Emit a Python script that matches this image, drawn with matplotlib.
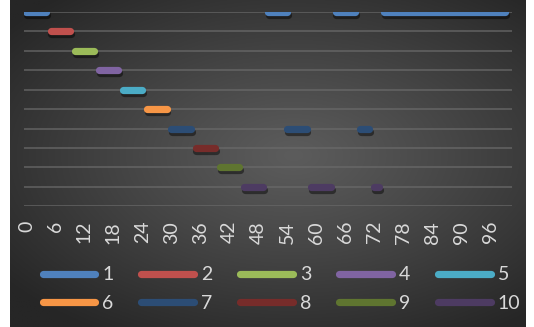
import numpy as np
import matplotlib.pyplot as plt
import matplotlib.patheffects as pe
from matplotlib.lines import Line2D

plt.rcParams['font.family'] = ['Lato', 'DejaVu Sans']

# process names, row level and the time slots each one runs in (inclusive)
labels = ['1', '2', '3', '4', '5', '6', '7', '8', '9', '10']
levels = [10, 9, 8, 7, 6, 5, 4, 3, 2, 1]
runs = [
    [(0, 4), (50, 54), (64, 68), (74, 99)],
    [(5, 9)],
    [(10, 14)],
    [(15, 19)],
    [(20, 24)],
    [(25, 29)],
    [(30, 34), (54, 58), (69, 71)],
    [(35, 39)],
    [(40, 44)],
    [(45, 49), (59, 63), (72, 73)],
]
colors = ['#4F81BD', '#C0504D', '#9BBB59', '#8064A2', '#4BACC6',
          '#F79646', '#2C4D75', '#772C2A', '#5F7530', '#4D3B62']
n_slots = 101
x = np.arange(n_slots)

W, H = 534, 327
fig = plt.figure(figsize=(W / 100, H / 100), dpi=100, facecolor='white')

# radial dark background
bg = fig.add_axes([10 / W, 0, 516 / W, 1])
bg.axis('off')
gx, gy = np.meshgrid(np.linspace(-1, 1, 400), np.linspace(-1, 1, 260))
r = np.sqrt(((gx - 0.1) * 1.0) ** 2 + ((gy + 0.05) * 1.1) ** 2) / np.sqrt(2)
r = np.clip(r, 0, 1)
shade = (0x5c - (0x5c - 0x26) * r ** 1.1) / 255
img = np.dstack([shade, shade, shade])
bg.imshow(img, aspect='auto', extent=[0, 1, 0, 1])
bg.set_xlim(0, 1)
bg.set_ylim(0, 1)

left = 24 / W
right = 512 / W
top = 1 - 12 / H
bottom = 1 - 206.3 / H
ax = fig.add_axes([left, bottom, right - left, top - bottom])
ax.patch.set_alpha(0)

for k in range(len(labels)):
    y = np.full(n_slots, np.nan)
    for s, e in runs[k]:
        y[s:e + 1] = levels[k]
    ax.plot(x, y, color=colors[k], lw=5.2, solid_capstyle='round',
            path_effects=[pe.SimpleLineShadow(offset=(0.6, -2.2), shadow_color='black', alpha=0.45),
                          pe.Normal()])

ax.set_xlim(-0.5, n_slots - 0.5)
ax.set_ylim(0, 10)
ax.set_yticks(range(0, 11))
ax.yaxis.grid(True, color='#6a6a6a', lw=1.1, alpha=0.85)
ax.set_axisbelow(True)
ax.tick_params(axis='y', length=0, labelleft=False)
ax.set_xticks(range(0, 97, 6))
ax.set_xticklabels([str(v) for v in range(0, 97, 6)], rotation=90, fontsize=14, color='#d9d9d9')
ax.tick_params(axis='x', length=0, pad=10.5)
for sp in ax.spines.values():
    sp.set_visible(False)

handles = [Line2D([], [], color=c, lw=5.2, solid_capstyle='round') for c in colors]
order = [0, 5, 1, 6, 2, 7, 3, 8, 4, 9]
fig.legend([handles[i] for i in order], [labels[i] for i in order], ncol=5,
           loc='center', bbox_to_anchor=(0.527, 0.1154), frameon=False,
           fontsize=14, handlelength=2.72, handletextpad=0.36, columnspacing=1.42,
           labelspacing=0.6, borderpad=0, borderaxespad=0, labelcolor='#d9d9d9')

fig.savefig('out.png', dpi=100)
